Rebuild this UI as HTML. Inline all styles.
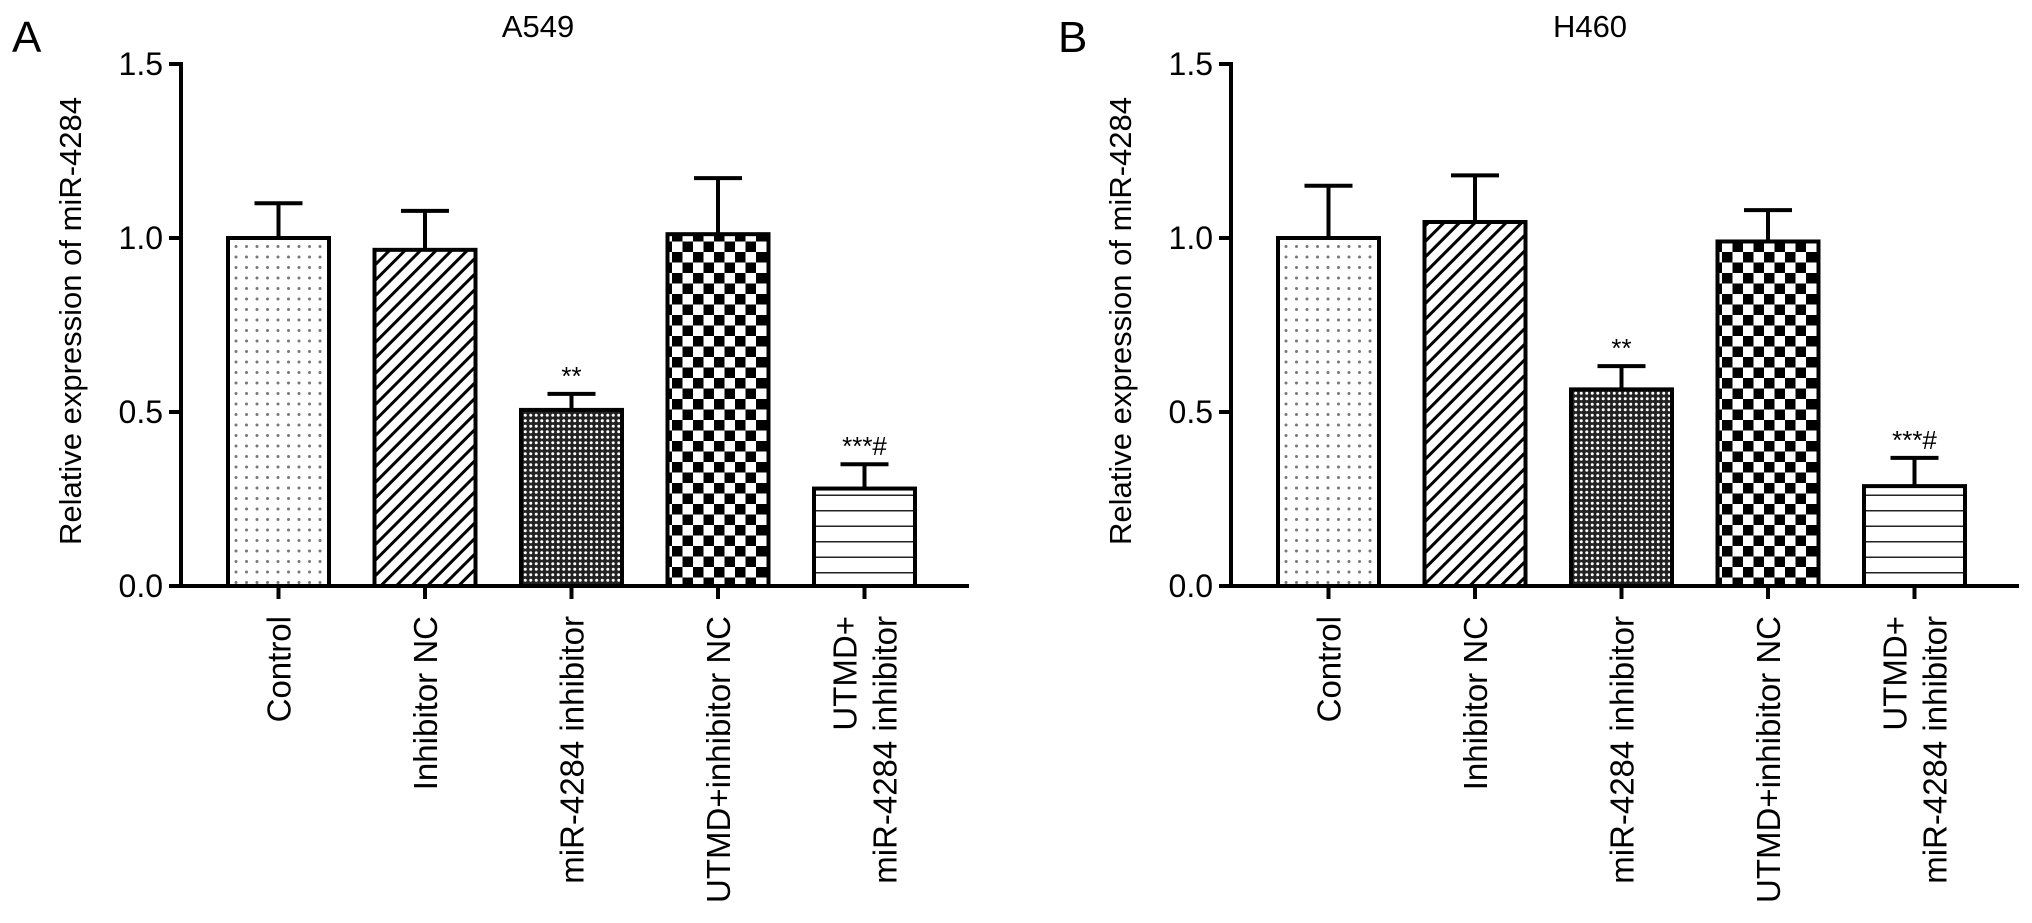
<!DOCTYPE html>
<html><head><meta charset="utf-8"><style>
html,body{margin:0;padding:0;background:#fff;}
svg{display:block;font-family:"Liberation Sans",Arial,sans-serif;}
</style></head><body>
<svg id="chart" width="2032" height="923" viewBox="0 0 2032 923" xmlns="http://www.w3.org/2000/svg">
<defs>
<pattern id="p-dots" patternUnits="userSpaceOnUse" width="10.5" height="10.5"><rect width="10.5" height="10.5" fill="#fff"/><circle cx="5" cy="5" r="1.5" fill="#777"/></pattern>
<pattern id="p-diag" patternUnits="userSpaceOnUse" width="11" height="11" patternTransform="rotate(45)"><rect width="11" height="11" fill="#fff"/><rect x="0" y="0" width="3" height="11" fill="#000"/></pattern>
<pattern id="p-fine" patternUnits="userSpaceOnUse" width="5.5" height="5.5"><rect width="5.5" height="5.5" fill="#222"/><circle cx="2.75" cy="2.75" r="1.5" fill="#fff"/></pattern>
<pattern id="p-check" patternUnits="userSpaceOnUse" width="21" height="21"><rect width="21" height="21" fill="#fff"/><rect x="0" y="0" width="10.5" height="10.5" fill="#000"/><rect x="10.5" y="10.5" width="10.5" height="10.5" fill="#000"/></pattern>
<pattern id="p-horiz" patternUnits="userSpaceOnUse" width="20" height="15.5"><rect width="20" height="15.5" fill="#fff"/><rect x="0" y="14" width="20" height="2" fill="#222"/></pattern>
</defs>
</svg>
<script>
const categories = ["Control","Inhibitor NC","miR-4284 inhibitor","UTMD+inhibitor NC","UTMD+\nmiR-4284 inhibitor"];
const valuesA = [1.0, 0.966, 0.506, 1.011, 0.28];
const errorsA = [1.10, 1.078, 0.552, 1.172, 0.35];
const valuesB = [1.0, 1.046, 0.565, 0.99, 0.287];
const errorsB = [1.15, 1.18, 0.632, 1.08, 0.368];
const sigA = ["", "", "**", "", "***#"];
const sigB = ["", "", "**", "", "***#"];
const yTicks = [0.0, 0.5, 1.0, 1.5];
const yTickLabels = ["0.0","0.5","1.0","1.5"];
const patterns = ["p-dots","p-diag","p-fine","p-check","p-horiz"];

const svg = document.getElementById('chart');
const NS = 'http://www.w3.org/2000/svg';
function mk(tag, attrs, parent){const e=document.createElementNS(NS,tag);for(const k in attrs)e.setAttribute(k,attrs[k]);(parent||svg).appendChild(e);return e;}

const y0 = 586, pxPer = 348;
function yScale(v){return y0 - v*pxPer;}

function panel(axisX, letter, letterX, title, titleX, values, errors, sig, key){
  const g = mk('g',{});
  
  
  const xStart = axisX + 47, pitch = 146.5, bw = 101;
  function xScale(i){return xStart + i*pitch;}
  const L = mk('text',{x:letterX,y:52,'font-size':44},g); L.textContent=letter;
  
  
  const T = mk('text',{x:titleX,y:37,'font-size':31,'text-anchor':'middle'},g); T.textContent=title;
  
  
  const ya = mk('line',{x1:axisX,y1:yScale(1.5)-2,x2:axisX,y2:y0+2,stroke:'#000','stroke-width':4},g);
  
  
  yTicks.forEach((t,i)=>{
    const tk = mk('line',{x1:axisX-12,y1:yScale(t),x2:axisX,y2:yScale(t),stroke:'#000','stroke-width':4},g);
    
    
    const tl = mk('text',{x:axisX-18,y:yScale(t)+11,'font-size':32,'text-anchor':'end'},g); tl.textContent=yTickLabels[i];
    
    
  });
  const yt = mk('text',{x:0,y:0,'font-size':31,'text-anchor':'middle',transform:`translate(${axisX-100},321) rotate(-90)`},g);
  yt.textContent='Relative expression of miR-4284';
  
  
  values.forEach((v,i)=>{
    const x = xScale(i), cx = x+bw/2;
    const el = mk('line',{x1:cx,y1:yScale(errors[i]),x2:cx,y2:yScale(v),stroke:'#000','stroke-width':4},g);
    
    
    const cap = mk('line',{x1:cx-24,y1:yScale(errors[i]),x2:cx+24,y2:yScale(errors[i]),stroke:'#000','stroke-width':4},g);
    
    
    const r = mk('rect',{x:x,y:yScale(v),width:bw,height:y0-yScale(v),fill:`url(#${patterns[i]})`,stroke:'#000','stroke-width':4},g);
    
    
    if(sig[i]){
      const s = mk('text',{x:cx,y:yScale(errors[i])-9,'font-size':26,'text-anchor':'middle'},g); s.textContent=sig[i];
      
      
    }
    const xt = mk('line',{x1:cx,y1:y0,x2:cx,y2:y0+13,stroke:'#000','stroke-width':4},g);
    
    
    const lines = categories[i].split('\n');
    lines.forEach((ln,j)=>{
      const off = (j-(lines.length-1)/2)*40;
      const tx = mk('text',{x:0,y:0,'font-size':33,'text-anchor':'end',transform:`translate(${cx+12+off},616) rotate(-90)`},g);
      tx.textContent=ln;
      
      
    });
  });
  const xa = mk('line',{x1:axisX-2,y1:y0,x2:axisX+788,y2:y0,stroke:'#000','stroke-width':4},g);
  
  
}
panel(181,'A',12,'A549',538,valuesA,errorsA,sigA,'a');
panel(1231,'B',1058,'H460',1590,valuesB,errorsB,sigB,'b');
</script>
</body></html>
